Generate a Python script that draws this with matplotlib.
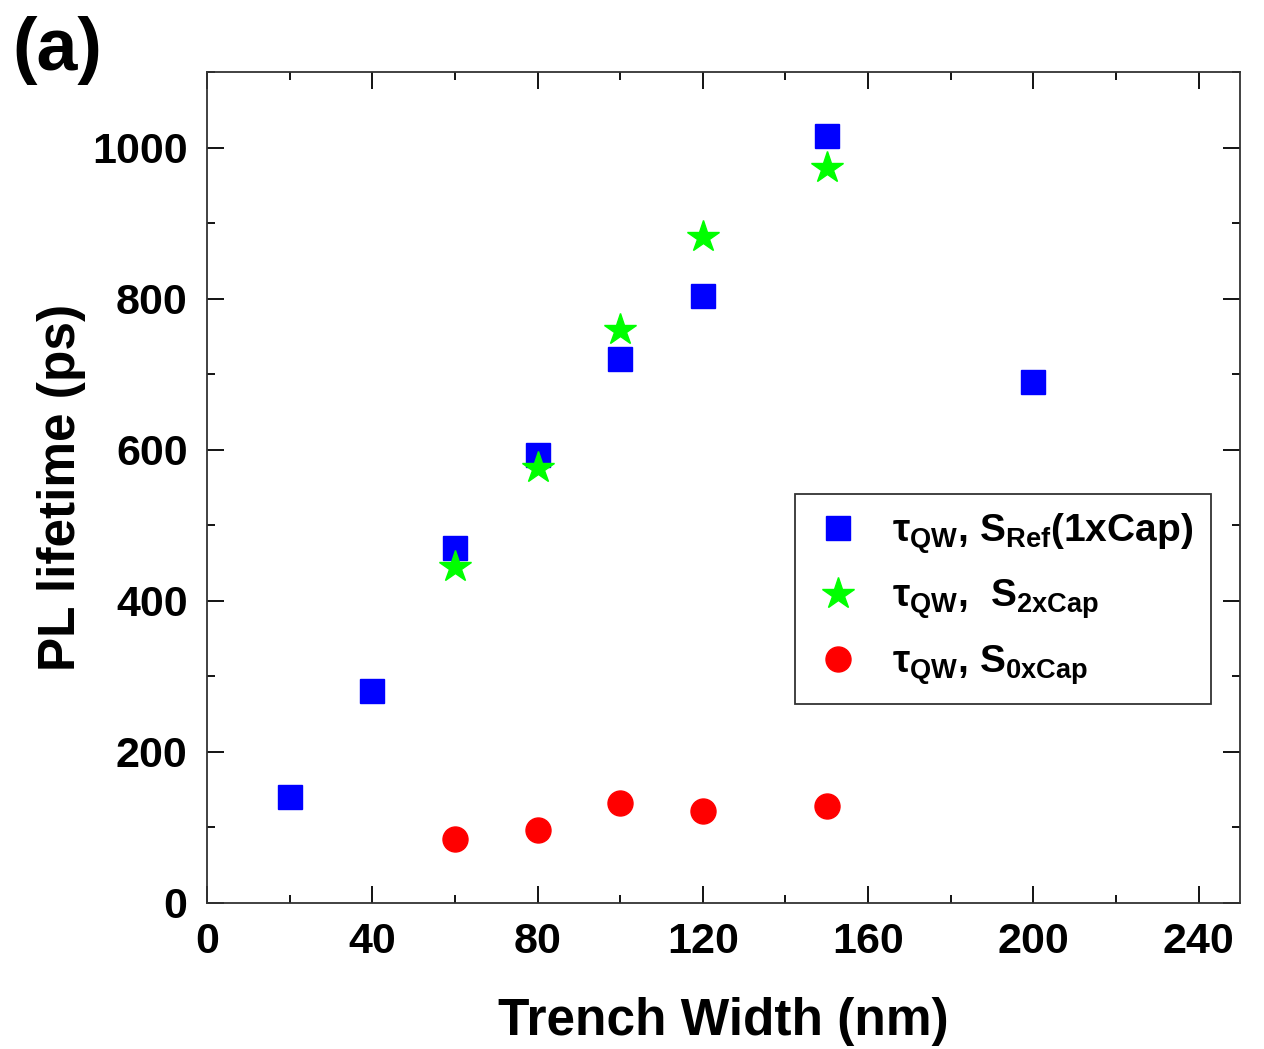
import matplotlib.pyplot as plt
from matplotlib.ticker import MultipleLocator

plt.rcParams['font.family'] = ['Liberation Sans', 'DejaVu Sans']
plt.rcParams['font.weight'] = 'bold'
plt.rcParams['mathtext.default'] = 'regular'

# data
ref_x = [20, 40, 60, 80, 100, 120, 150, 200]
ref_y = [140, 281, 470, 593, 720, 803, 1015, 689]

cap2_x = [60, 80, 100, 120, 150]
cap2_y = [445, 576, 758, 881, 973]

cap0_x = [60, 80, 100, 120, 150]
cap0_y = [85, 97, 132, 122, 128]

fig = plt.figure(figsize=(12.64, 10.49), dpi=100)
ax = fig.add_axes([207 / 1264, 1 - 903 / 1049, 1033 / 1264, 831 / 1049])

ax.plot(ref_x, ref_y, ls='none', marker='s', ms=17, color='#0000ff',
        label='τ$_{QW}$, S$_{Ref}$(1xCap)')
ax.plot(cap2_x, cap2_y, ls='none', marker='*', ms=24, color='#00ff00',
        label='τ$_{QW}$,  S$_{2xCap}$')
ax.plot(cap0_x, cap0_y, ls='none', marker='o', ms=18, color='#ff0000',
        label='τ$_{QW}$, S$_{0xCap}$')

ax.set_xlim(0, 250)
ax.set_ylim(0, 1100)
ax.xaxis.set_major_locator(MultipleLocator(40))
ax.xaxis.set_minor_locator(MultipleLocator(20))
ax.yaxis.set_major_locator(MultipleLocator(200))
ax.yaxis.set_minor_locator(MultipleLocator(100))
ax.tick_params(which='both', direction='in', top=True, right=True,
               width=1.3, labelsize=31, pad=14)
ax.tick_params(which='major', length=12)
ax.tick_params(which='minor', length=6)
for s in ax.spines.values():
    s.set_linewidth(1.3)
    s.set_color('#333333')

ax.set_xlabel('Trench Width (nm)', fontsize=37, fontweight='bold', labelpad=25)
ax.set_ylabel('PL lifetime (ps)', fontsize=37, fontweight='bold', labelpad=4)

leg = ax.legend(loc='upper left', bbox_to_anchor=(0.569, 0.492), fontsize=28,
                fancybox=False, edgecolor='#333333', framealpha=1,
                handlelength=1.3, handletextpad=0.75, labelspacing=0.55,
                borderpad=0.45, borderaxespad=0)
leg.get_frame().set_linewidth(1.3)

fig.text(12 / 1264, 1 - 16 / 1049, '(a)', fontsize=53, fontweight='bold',
         va='top')

fig.savefig('out.png', dpi=100)
